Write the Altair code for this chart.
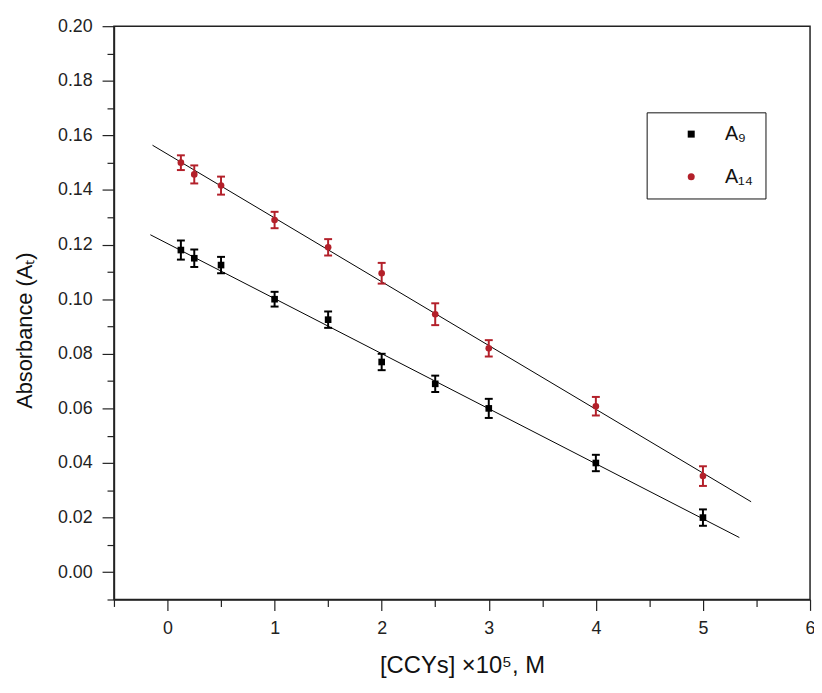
import altair as alt
import pandas as pd

# ---- data ----
conc = [0.125, 0.25, 0.5, 1.0, 1.5, 2.0, 2.5, 3.0, 4.0, 5.0]
a9 = [0.118, 0.115, 0.1125, 0.100, 0.0925, 0.077, 0.069, 0.060, 0.040, 0.020]
a9_err = [0.0035, 0.0032, 0.003, 0.0027, 0.003, 0.003, 0.003, 0.0035, 0.003, 0.003]
a14 = [0.150, 0.1457, 0.1416, 0.129, 0.119, 0.1095, 0.0945, 0.082, 0.0608, 0.0352]
a14_err = [0.0027, 0.0033, 0.0033, 0.003, 0.003, 0.0038, 0.004, 0.003, 0.0034, 0.0036]

fit9_x = [-0.16, 5.34]
fit9_y = [0.1236, 0.0127]
fit14_x = [-0.14, 5.45]
fit14_y = [0.1564, 0.0258]

series_names = ["A\u2089", "A\u2081\u2084"]
series_colors = ["#000000", "#B3202A"]
series_shapes = ["square", "circle"]

x_major = [0, 1, 2, 3, 4, 5, 6]
x_minor = [-0.5, 0.5, 1.5, 2.5, 3.5, 4.5, 5.5]
y_major = [0.00, 0.02, 0.04, 0.06, 0.08, 0.10, 0.12, 0.14, 0.16, 0.18, 0.20]
y_minor = [-0.01, 0.01, 0.03, 0.05, 0.07, 0.09, 0.11, 0.13, 0.15, 0.17, 0.19]

pts = pd.DataFrame({
    "x": conc + conc,
    "y": a9 + a14,
    "err": a9_err + a14_err,
    "series": [series_names[0]] * len(conc) + [series_names[1]] * len(conc),
})
fits = pd.DataFrame({
    "x": fit9_x + fit14_x,
    "y": fit9_y + fit14_y,
    "series": [series_names[0]] * 2 + [series_names[1]] * 2,
})

FONT = "Liberation Sans"

xscale = alt.Scale(domain=[-0.5, 6], nice=False, zero=False)
yscale = alt.Scale(domain=[-0.01, 0.20], nice=False, zero=False)

x_axis = alt.Axis(
    orient="bottom",
    values=x_major,
    format="d",
    tickSize=11,
    labelPadding=9,
    title="[CCYs] \u00d710\u2075, M",
    titleBaseline="alphabetic",
    titleY=74,
    titleFontSize=24,
)
y_axis = alt.Axis(
    orient="left",
    values=y_major,
    format=".2f",
    tickSize=12,
    labelPadding=10,
    title="Absorbance (A\u209c)",
    titleX=-90,
    titleY=307,
    titleBaseline="middle",
    titleAlign="center",
    titleFontSize=22,
)
x_minor_axis = alt.Axis(orient="bottom", values=x_minor, tickSize=7, labels=False, title=None, domain=False)
y_minor_axis = alt.Axis(orient="left", values=y_minor, tickSize=7, labels=False, title=None, domain=False)

legend = alt.Legend(
    title=None,
    orient="none",
    legendX=538,
    legendY=87,
    strokeColor="#111",
    fillColor="white",
    padding=12,
    symbolOffset=23,
    labelOffset=24,
    rowPadding=23,
    labelFontSize=20,
    labelFont=FONT,
    labelColor="#111",
    symbolSize=50,
)

# colour of each series for the error bars, without a scale (keeps the only legend on the points)
bar_colour = "datum.series === '%s' ? '%s' : '%s'" % (series_names[0], series_colors[0], series_colors[1])

base = alt.Chart(pts)

whisker = base.mark_rule(strokeWidth=2).transform_calculate(
    lo="datum.y - datum.err", hi="datum.y + datum.err", col=bar_colour
).encode(
    x=alt.X("x:Q", scale=xscale, axis=x_axis),
    y=alt.Y("lo:Q", scale=yscale, axis=y_axis),
    y2="hi:Q",
    stroke=alt.Stroke("col:N", scale=None),
)

cap_lo = base.mark_rule(strokeWidth=2, xOffset=-4, x2Offset=4).transform_calculate(
    lo="datum.y - datum.err", col=bar_colour
).encode(
    x=alt.X("x:Q", scale=xscale, axis=None),
    x2="x:Q",
    y=alt.Y("lo:Q", scale=yscale, axis=None),
    stroke=alt.Stroke("col:N", scale=None),
)
cap_hi = base.mark_rule(strokeWidth=2, xOffset=-4, x2Offset=4).transform_calculate(
    hi="datum.y + datum.err", col=bar_colour
).encode(
    x=alt.X("x:Q", scale=xscale, axis=None),
    x2="x:Q",
    y=alt.Y("hi:Q", scale=yscale, axis=None),
    stroke=alt.Stroke("col:N", scale=None),
)

lines = alt.Chart(fits).mark_line(color="black", strokeWidth=1).encode(
    x=alt.X("x:Q", scale=xscale, axis=x_minor_axis),
    y=alt.Y("y:Q", scale=yscale, axis=y_minor_axis),
    detail="series:N",
)

points = base.mark_point(filled=True, size=45, opacity=1).encode(
    x=alt.X("x:Q", scale=xscale, axis=None),
    y=alt.Y("y:Q", scale=yscale, axis=None),
    color=alt.Color("series:N", scale=alt.Scale(domain=series_names, range=series_colors), legend=legend),
    shape=alt.Shape("series:N", scale=alt.Scale(domain=series_names, range=series_shapes), legend=legend),
)

chart = alt.layer(lines, whisker, cap_lo, cap_hi, points).resolve_axis(
    x="independent", y="independent"
).properties(
    width=703,
    height=579,
    autosize=alt.AutoSizeParams(type="none"),
    padding={"left": 107, "top": 15, "right": 4, "bottom": 85},
    background="white",
).configure_view(
    stroke="#222", strokeWidth=1.5
).configure_axis(
    grid=False,
    domainColor="#222",
    domainWidth=1.5,
    tickColor="#222",
    tickWidth=1.2,
    labelFont=FONT,
    labelFontSize=18,
    labelColor="#222",
    labelOverlap=False,
    labelFlush=False,
    titleFont=FONT,
    titleFontWeight="normal",
    titleColor="#111",
)

chart.save("out.html", embed_options={"renderer": "svg", "actions": False})
